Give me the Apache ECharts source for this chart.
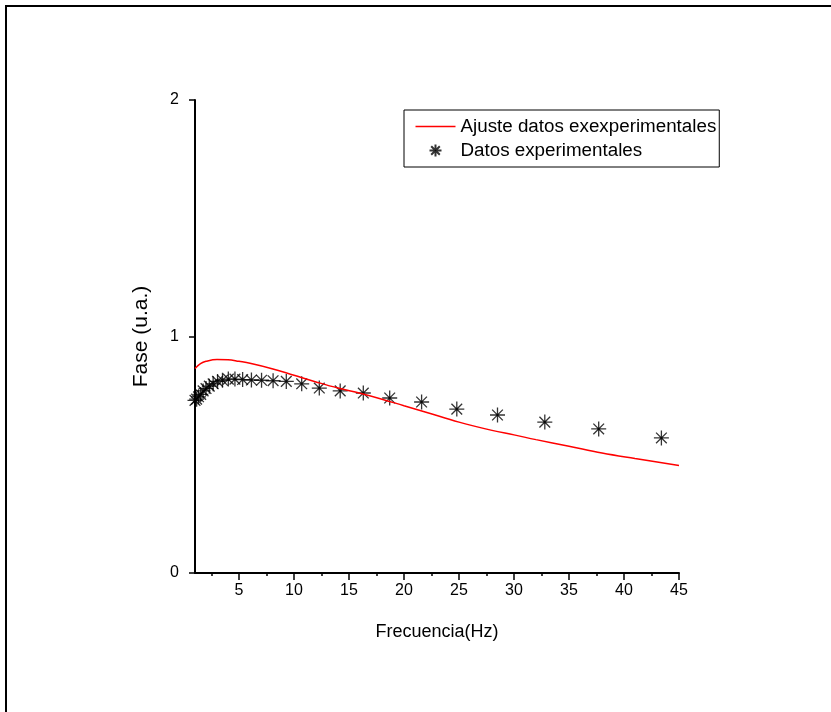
<!DOCTYPE html>
<html>
<head>
<meta charset="utf-8">
<script src="https://cdn.jsdelivr.net/npm/echarts@6/dist/echarts.min.js"></script>
<style>
  html, body { margin: 0; padding: 0; background: #fff; }
  #chart { width: 831px; height: 712px; }
</style>
</head>
<body>
<div id="chart"></div>
<script>
// experimental points (Hz, u.a.)
const freqExp = [1.0, 1.15, 1.32, 1.52, 1.74, 2.0, 2.3, 2.65, 3.05, 3.5, 4.03, 4.63, 5.33, 6.13, 7.05, 8.1, 9.3, 10.7, 12.3, 14.2, 16.3, 18.7, 21.6, 24.8, 28.5, 32.8, 37.7, 43.4];
const faseExp = [0.73, 0.735, 0.745, 0.755, 0.77, 0.78, 0.79, 0.8, 0.81, 0.815, 0.82, 0.82, 0.818, 0.816, 0.815, 0.813, 0.81, 0.8, 0.782, 0.77, 0.761, 0.74, 0.723, 0.693, 0.668, 0.638, 0.609, 0.571];

// fitted curve
const freqFit = [1, 1.5, 2, 3, 4, 5, 6, 8, 10, 12, 14, 16, 18, 20, 22, 25, 28, 30, 32, 35, 38, 41, 45];
const faseFit = [0.865, 0.885, 0.895, 0.903, 0.902, 0.895, 0.887, 0.864, 0.836, 0.808, 0.782, 0.760, 0.735, 0.707, 0.680, 0.638, 0.603, 0.584, 0.564, 0.536, 0.507, 0.484, 0.455];

const xMajorTicks = [5, 10, 15, 20, 25, 30, 35, 40, 45];
const xMinorTicks = [2.5, 7.5, 12.5, 17.5, 22.5, 27.5, 32.5, 37.5, 42.5];

const fitName = "Ajuste datos exexperimentales";
const expName = "Datos experimentales";

const font = "'Liberation Sans', Arial, sans-serif";
const asterisk = "path://M7,0L7,14M0,7L14,7M2,2L12,12M2,12L12,2M6,6L8,6L8,8L6,8Z";
const lineIcon = "path://M0,0L0,0M0,6L40,6M40,12L40,12";

const chart = echarts.init(document.getElementById("chart"));

const axisLineStyle = { lineStyle: { color: "#000", width: 2 } };

chart.setOption({
  animation: false,
  backgroundColor: "#fff",
  textStyle: { fontFamily: font, color: "#000" },
  grid: { left: 195, right: 152, top: 100, bottom: 139 },
  legend: {
    orient: "vertical",
    left: 404,
    top: 110,
    padding: [7, 3, 7, 9],
    itemGap: 5,
    itemWidth: 40,
    itemHeight: 12,
    borderColor: "#000",
    borderWidth: 1,
    textStyle: { fontSize: 18.8, lineHeight: 18, color: "#000", fontFamily: font },
    data: [
      { name: fitName, icon: lineIcon, itemStyle: { color: "none", borderColor: "#ff0000", borderWidth: 1.5 } },
      { name: expName }
    ]
  },
  xAxis: [{
    type: "value",
    min: 1,
    max: 45,
    name: "Frecuencia(Hz)",
    nameLocation: "middle",
    nameGap: 50,
    nameTextStyle: { fontSize: 18, color: "#000" },
    axisLine: axisLineStyle,
    axisTick: { show: true, length: 7, customValues: xMajorTicks, lineStyle: { color: "#000", width: 1.5 } },
    axisLabel: { customValues: xMajorTicks, fontSize: 16, color: "#000", margin: 10 },
    splitLine: { show: false }
  }, {
    type: "value",
    min: 1,
    max: 45,
    position: "bottom",
    axisLine: { show: false },
    axisTick: { show: true, length: 3, customValues: xMinorTicks, lineStyle: { color: "#000", width: 1.5 } },
    axisLabel: { show: false },
    splitLine: { show: false }
  }],
  yAxis: {
    type: "value",
    min: 0,
    max: 2,
    interval: 1,
    name: "Fase (u.a.)",
    nameLocation: "middle",
    nameGap: 43,
    nameTextStyle: { fontSize: 21, color: "#000" },
    axisLine: axisLineStyle,
    axisTick: { show: true, length: 6, lineStyle: { color: "#000", width: 1.5 } },
    axisLabel: { fontSize: 16, color: "#000", margin: 16 },
    splitLine: { show: false }
  },
  graphic: [
    { type: "line", shape: { x1: 5, y1: 6, x2: 831, y2: 6 }, style: { stroke: "#000", lineWidth: 2 } },
    { type: "line", shape: { x1: 6, y1: 5, x2: 6, y2: 712 }, style: { stroke: "#000", lineWidth: 2 } }
  ],
  series: [{
    name: fitName,
    type: "line",
    smooth: 0.4,
    symbol: "none",
    lineStyle: { color: "#ff0000", width: 1.5 },
    itemStyle: { color: "#ff0000" },
    data: freqFit.map((f, i) => [f, faseFit[i]])
  }, {
    name: expName,
    type: "scatter",
    symbol: asterisk,
    symbolSize: 15,
    itemStyle: { color: "#000", borderColor: "#000", borderWidth: 1.3 },
    data: freqExp.map((f, i) => [f, faseExp[i]])
  }]
});
</script>
</body>
</html>
